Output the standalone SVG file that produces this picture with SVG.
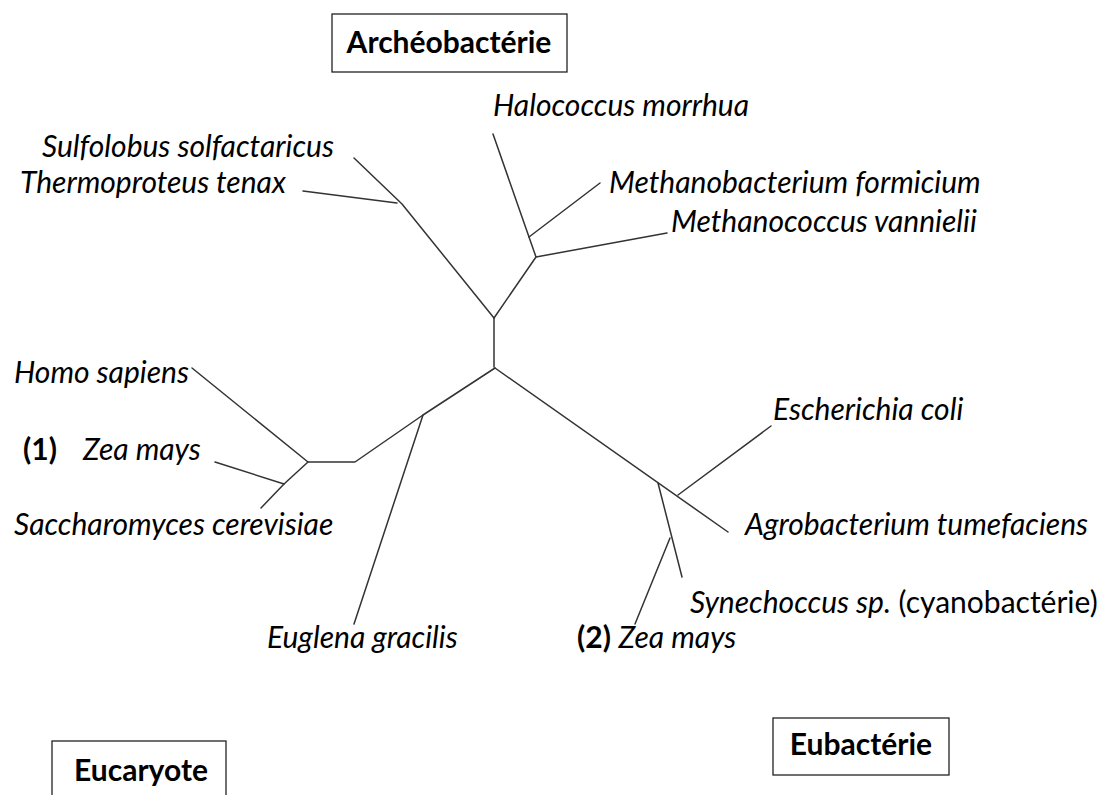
<svg xmlns="http://www.w3.org/2000/svg" width="1101" height="795" viewBox="0 0 1101 795">
<style>
.t{font-family:Lato,"Open Sans",sans-serif;font-size:30px;fill:#000}
.i{font-style:italic}
.b{font-weight:bold}
.box{fill:#fff;stroke:#222;stroke-width:1.3}
.e{stroke:#333;stroke-width:1.5;fill:none;stroke-linecap:round;stroke-linejoin:round}
</style>
<rect width="1101" height="795" fill="#fff"/>
<g id="connectors">
<polyline class="e" points="494,367 494,318"/>
<polyline class="e" points="494,318 402,204 354,158"/>
<polyline class="e" points="303,191 397,203"/>
<polyline class="e" points="494,318 536,257 493,134"/>
<polyline class="e" points="529,237 600,183"/>
<polyline class="e" points="536,257 667,233"/>
<polyline class="e" points="495,368 423,415 355,462 308,462 192,368"/>
<polyline class="e" points="308,462 284,484 261,508"/>
<polyline class="e" points="215,462 284,484"/>
<polyline class="e" points="423,415 354,624"/>
<polyline class="e" points="495,368 728,532"/>
<polyline class="e" points="678,495 771,426"/>
<polyline class="e" points="658,483 682,577"/>
<polyline class="e" points="670,538 635,624"/>
</g>
<g id="archeobacterie">
<rect class="box" x="332" y="14" width="235" height="58"/>
<text class="t b" x="449" y="53" text-anchor="middle">Archéobactérie</text>
</g>
<g id="eucaryote">
<rect class="box" x="52" y="741" width="174" height="60"/>
<text class="t b" x="141" y="781" text-anchor="middle">Eucaryote</text>
</g>
<g id="eubacterie">
<rect class="box" x="773" y="718" width="176" height="57"/>
<text class="t b" x="861" y="755" text-anchor="middle">Eubactérie</text>
</g>
<g id="halococcus"><text class="t i" x="493" y="116">Halococcus morrhua</text></g>
<g id="sulfolobus"><text class="t i" x="42" y="157">Sulfolobus solfactaricus</text></g>
<g id="thermoproteus"><text class="t i" x="20" y="193">Thermoproteus tenax</text></g>
<g id="methanobacterium"><text class="t i" x="609" y="193">Methanobacterium formicium</text></g>
<g id="methanococcus"><text class="t i" x="671" y="232">Methanococcus vannielii</text></g>
<g id="homo"><text class="t i" x="14" y="383">Homo sapiens</text></g>
<g id="zea1"><text class="t" x="23" y="460"><tspan class="b">(1)</tspan><tspan class="i" x="83">Zea mays</tspan></text></g>
<g id="saccharomyces"><text class="t i" x="14" y="535">Saccharomyces cerevisiae</text></g>
<g id="euglena"><text class="t i" x="267" y="648">Euglena gracilis</text></g>
<g id="escherichia"><text class="t i" x="773" y="420">Escherichia coli</text></g>
<g id="agrobacterium"><text class="t i" x="745" y="535">Agrobacterium tumefaciens</text></g>
<g id="synechoccus"><text class="t" x="690" y="613"><tspan class="i">Synechoccus sp.</tspan> (cyanobactérie)</text></g>
<g id="zea2"><text class="t" x="577" y="648"><tspan class="b">(2)</tspan> <tspan class="i">Zea mays</tspan></text></g>
</svg>
